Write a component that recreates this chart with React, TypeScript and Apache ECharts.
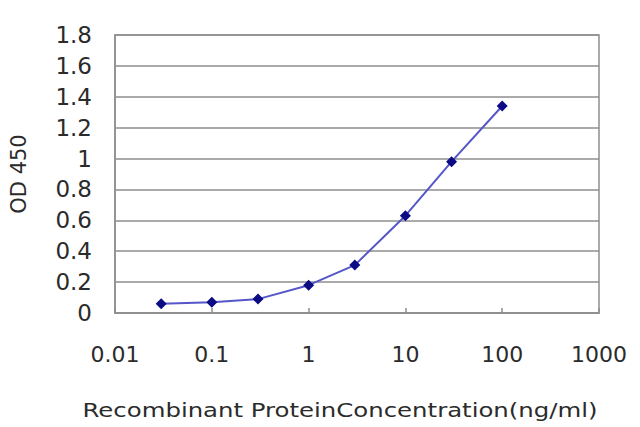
import React, { useEffect, useRef } from "react";
import * as echarts from "echarts";

const concentrations = [0.03, 0.1, 0.3, 1, 3, 10, 30, 100];
const od450 = [0.06, 0.07, 0.09, 0.18, 0.31, 0.63, 0.98, 1.34];
const xAxisTitle = "Recombinant ProteinConcentration(ng/ml)";
const yAxisTitle = "OD 450";

export default function App() {
  const ref = useRef<HTMLDivElement>(null);
  useEffect(() => {
    if (!ref.current) return;
    const chart = echarts.init(ref.current, null, { renderer: "svg" });
    const font = "DejaVu Sans";
    const textColor = "#2b2b2b";
    const gridColor = "#8e8e8e";
    chart.setOption({
      animation: false,
      backgroundColor: "#ffffff",
      grid: {
        left: 106,
        top: 35,
        right: 41,
        bottom: 114,
        show: true,
        borderColor: gridColor,
        borderWidth: 1.5,
        containLabel: false,
      },
      graphic: [
        {
          type: "text",
          x: 340,
          y: 410,
          scaleX: 1.22,
          style: {
            text: xAxisTitle,
            fontFamily: font,
            fontSize: 20,
            fill: textColor,
            textAlign: "center",
            textVerticalAlign: "middle",
          },
        },
      ],
      xAxis: {
        type: "log",
        logBase: 10,
        min: 0.01,
        max: 1000,
        axisLine: { show: true, lineStyle: { color: gridColor, width: 1.5 } },
        axisTick: { show: true, inside: true, length: 5, lineStyle: { color: gridColor, width: 1.5 } },
        minorTick: { show: false },
        splitLine: { show: false },
        axisLabel: {
          fontFamily: font,
          fontSize: 22,
          color: textColor,
          margin: 30,
          formatter: (v: number) => String(Number(v.toPrecision(3))),
        },
      },
      yAxis: {
        type: "value",
        min: 0,
        max: 1.8,
        interval: 0.2,
        name: yAxisTitle,
        nameLocation: "middle",
        nameGap: 86,
        nameTextStyle: {
          fontFamily: font,
          fontSize: 21,
          color: textColor,
        },
        axisLine: { show: true, lineStyle: { color: gridColor, width: 1.5 } },
        axisTick: { show: false },
        splitLine: { show: true, lineStyle: { color: gridColor, width: 1.5 } },
        axisLabel: {
          fontFamily: font,
          fontSize: 23,
          color: textColor,
          margin: 23,
          formatter: (v: number) => String(Math.round(v * 10) / 10),
        },
      },
      series: [
        {
          type: "line",
          data: concentrations.map((c, i) => [c, od450[i]]),
          symbol: "diamond",
          symbolSize: 11,
          itemStyle: { color: "#0b0b85" },
          lineStyle: { color: "#5656c8", width: 2 },
        },
      ],
    });
    return () => chart.dispose();
  }, []);
  return (
    <div
      ref={ref}
      style={{ position: "fixed", left: 0, top: 0, width: 640, height: 427 }}
    />
  );
}
